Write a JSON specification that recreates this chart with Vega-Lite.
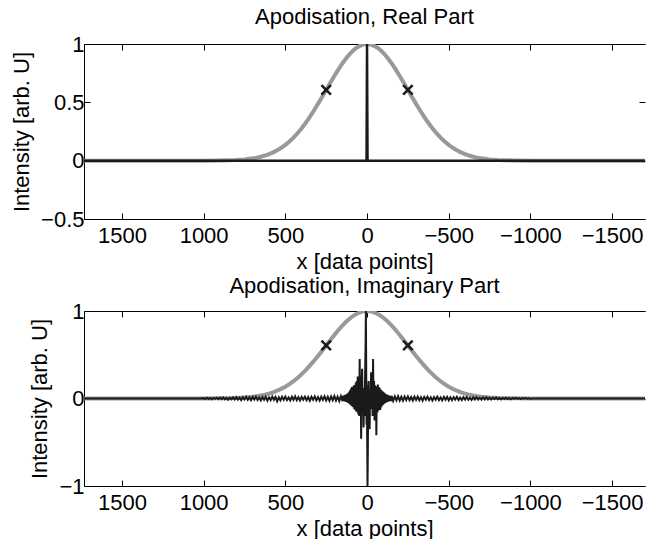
{
  "$schema": "https://vega.github.io/schema/vega-lite/v6.json",
  "padding": {"left": 10, "right": 0, "top": 6, "bottom": 0},
  "config": {
    "font": "Liberation Sans",
    "view": {"stroke": null},
    "axis": {"grid": false, "tickSize": -6, "tickColor": "black", "tickWidth": 1, "domainColor": "black", "domainWidth": 1, "labelColor": "black", "titleColor": "black", "labelFontSize": 22, "titleFontSize": 22, "titleFontWeight": "normal", "labelFont": "Liberation Sans", "titleFont": "Liberation Sans", "labelFlush": false, "labelOverlap": false},
    "title": {"fontSize": 22, "fontWeight": "normal", "font": "Liberation Sans", "color": "black", "offset": 4}
  },
  "spacing": 3,
  "datasets": {
    "gauss": [
      {"x": 1732, "g": 0}, {"x": 1000, "g": 0.0003}, {"x": 900, "g": 0.0015}, {"x": 850, "g": 0.0031}, {"x": 800, "g": 0.006}, {"x": 750, "g": 0.0111}, {"x": 700, "g": 0.0198}, {"x": 675, "g": 0.0261}, {"x": 650, "g": 0.034}, {"x": 625, "g": 0.0439}, {"x": 600, "g": 0.0561}, {"x": 575, "g": 0.071}, {"x": 550, "g": 0.0889}, {"x": 525, "g": 0.1103}, {"x": 500, "g": 0.1353}, {"x": 475, "g": 0.1645}, {"x": 450, "g": 0.1979}, {"x": 425, "g": 0.2357}, {"x": 400, "g": 0.278}, {"x": 375, "g": 0.3247}, {"x": 350, "g": 0.3753}, {"x": 325, "g": 0.4296}, {"x": 300, "g": 0.4868}, {"x": 275, "g": 0.5461}, {"x": 250, "g": 0.6065}, {"x": 225, "g": 0.667}, {"x": 200, "g": 0.7261}, {"x": 175, "g": 0.7827}, {"x": 150, "g": 0.8353}, {"x": 125, "g": 0.8825}, {"x": 100, "g": 0.9231}, {"x": 75, "g": 0.956}, {"x": 50, "g": 0.9802}, {"x": 25, "g": 0.995}, {"x": 0, "g": 1},
      {"x": -25, "g": 0.995}, {"x": -50, "g": 0.9802}, {"x": -75, "g": 0.956}, {"x": -100, "g": 0.9231}, {"x": -125, "g": 0.8825}, {"x": -150, "g": 0.8353}, {"x": -175, "g": 0.7827}, {"x": -200, "g": 0.7261}, {"x": -225, "g": 0.667}, {"x": -250, "g": 0.6065}, {"x": -275, "g": 0.5461}, {"x": -300, "g": 0.4868}, {"x": -325, "g": 0.4296}, {"x": -350, "g": 0.3753}, {"x": -375, "g": 0.3247}, {"x": -400, "g": 0.278}, {"x": -425, "g": 0.2357}, {"x": -450, "g": 0.1979}, {"x": -475, "g": 0.1645}, {"x": -500, "g": 0.1353}, {"x": -525, "g": 0.1103}, {"x": -550, "g": 0.0889}, {"x": -575, "g": 0.071}, {"x": -600, "g": 0.0561}, {"x": -625, "g": 0.0439}, {"x": -650, "g": 0.034}, {"x": -675, "g": 0.0261}, {"x": -700, "g": 0.0198}, {"x": -750, "g": 0.0111}, {"x": -800, "g": 0.006}, {"x": -850, "g": 0.0031}, {"x": -900, "g": 0.0015}, {"x": -1000, "g": 0.0003}, {"x": -1701, "g": 0}
    ],
    "real": [
      {"x": 1732, "r": 0}, {"x": 60, "r": 0}, {"x": 3, "r": 0}, {"x": 0, "r": 1}, {"x": -3, "r": 0}, {"x": -60, "r": 0}, {"x": -1701, "r": 0}
    ],
    "imag": [
      {"x": 1732, "v": 0}, {"x": 1020, "v": 0},
      {"x": 1000, "v": 0.004}, {"x": 990, "v": -0.006}, {"x": 980, "v": 0.008}, {"x": 970, "v": -0.005}, {"x": 960, "v": 0.007}, {"x": 950, "v": -0.009}, {"x": 940, "v": 0.006}, {"x": 930, "v": -0.004}, {"x": 920, "v": 0.009}, {"x": 910, "v": -0.008},
      {"x": 900, "v": 0.011}, {"x": 890, "v": -0.007}, {"x": 880, "v": 0.012}, {"x": 870, "v": -0.01}, {"x": 860, "v": 0.006}, {"x": 850, "v": -0.013}, {"x": 840, "v": 0.01}, {"x": 830, "v": -0.009}, {"x": 820, "v": 0.014}, {"x": 810, "v": -0.011},
      {"x": 800, "v": 0.016}, {"x": 790, "v": -0.012}, {"x": 780, "v": 0.01}, {"x": 770, "v": -0.018}, {"x": 760, "v": 0.015}, {"x": 750, "v": -0.011}, {"x": 740, "v": 0.019}, {"x": 730, "v": -0.016}, {"x": 720, "v": 0.012}, {"x": 710, "v": -0.02},
      {"x": 700, "v": 0.017}, {"x": 690, "v": -0.013}, {"x": 680, "v": 0.021}, {"x": 670, "v": -0.018}, {"x": 660, "v": 0.011}, {"x": 650, "v": -0.022}, {"x": 640, "v": 0.016}, {"x": 630, "v": -0.014}, {"x": 620, "v": 0.02}, {"x": 610, "v": -0.024},
      {"x": 600, "v": 0.013}, {"x": 590, "v": -0.019}, {"x": 580, "v": 0.022}, {"x": 570, "v": -0.015}, {"x": 560, "v": 0.018}, {"x": 550, "v": -0.032}, {"x": 540, "v": 0.014}, {"x": 530, "v": -0.021}, {"x": 520, "v": 0.019}, {"x": 510, "v": -0.016},
      {"x": 500, "v": 0.023}, {"x": 490, "v": -0.018}, {"x": 480, "v": 0.012}, {"x": 470, "v": -0.022}, {"x": 460, "v": 0.02}, {"x": 450, "v": -0.014}, {"x": 440, "v": 0.024}, {"x": 430, "v": -0.019}, {"x": 420, "v": 0.015}, {"x": 410, "v": -0.023},
      {"x": 400, "v": 0.018}, {"x": 390, "v": -0.013}, {"x": 380, "v": 0.021}, {"x": 370, "v": -0.02}, {"x": 360, "v": 0.016}, {"x": 350, "v": -0.025}, {"x": 340, "v": 0.019}, {"x": 330, "v": -0.015}, {"x": 320, "v": 0.024}, {"x": 310, "v": -0.021},
      {"x": 300, "v": 0.017}, {"x": 290, "v": -0.023}, {"x": 280, "v": 0.022}, {"x": 270, "v": -0.016}, {"x": 260, "v": 0.025}, {"x": 250, "v": -0.022}, {"x": 240, "v": 0.019}, {"x": 230, "v": -0.026}, {"x": 220, "v": 0.023}, {"x": 210, "v": -0.02},
      {"x": 200, "v": 0.027}, {"x": 190, "v": -0.024}, {"x": 180, "v": 0.021}, {"x": 170, "v": -0.028}, {"x": 160, "v": 0.026},
      {"x": 150, "v": -0.03}, {"x": 147, "v": 0.03}, {"x": 144, "v": -0.025}, {"x": 141, "v": 0.035}, {"x": 138, "v": -0.03}, {"x": 135, "v": 0.04}, {"x": 132, "v": -0.035}, {"x": 129, "v": 0.045}, {"x": 126, "v": -0.04}, {"x": 123, "v": 0.05}, {"x": 120, "v": -0.045}, {"x": 117, "v": 0.06}, {"x": 114, "v": -0.05}, {"x": 111, "v": 0.07}, {"x": 108, "v": -0.06}, {"x": 105, "v": 0.09}, {"x": 102, "v": -0.07}, {"x": 99, "v": 0.11}, {"x": 96, "v": -0.08}, {"x": 93, "v": 0.13}, {"x": 90, "v": -0.09}, {"x": 87, "v": 0.12}, {"x": 84, "v": -0.1}, {"x": 81, "v": 0.15}, {"x": 78, "v": -0.12}, {"x": 75, "v": 0.14}, {"x": 72, "v": -0.13}, {"x": 69, "v": 0.18}, {"x": 66, "v": -0.15}, {"x": 63, "v": 0.2}, {"x": 60, "v": -0.14}, {"x": 57, "v": 0.25}, {"x": 54, "v": -0.18}, {"x": 51, "v": 0.22}, {"x": 48, "v": -0.2}, {"x": 45, "v": 0.45}, {"x": 42, "v": -0.15}, {"x": 39, "v": 0.2}, {"x": 36, "v": -0.46}, {"x": 33, "v": 0.15}, {"x": 30, "v": 0.34}, {"x": 27, "v": -0.1}, {"x": 24, "v": 0.12}, {"x": 21, "v": -0.33}, {"x": 18, "v": 0.1}, {"x": 15, "v": -0.2}, {"x": 12, "v": 0.25}, {"x": 9, "v": 0.6}, {"x": 7, "v": 1.0}, {"x": 5, "v": 0.3}, {"x": 3, "v": -0.3}, {"x": 1, "v": 0.1}, {"x": -1, "v": -0.5}, {"x": -3, "v": -1.0}, {"x": -5, "v": -0.6}, {"x": -7, "v": 0.1}, {"x": -10, "v": 0.2}, {"x": -13, "v": -0.15}, {"x": -16, "v": -0.35}, {"x": -19, "v": 0.1}, {"x": -22, "v": -0.1}, {"x": -25, "v": 0.3}, {"x": -28, "v": -0.12}, {"x": -31, "v": 0.18}, {"x": -34, "v": -0.2}, {"x": -37, "v": 0.45}, {"x": -40, "v": -0.15}, {"x": -43, "v": 0.2}, {"x": -46, "v": -0.25}, {"x": -49, "v": 0.15}, {"x": -52, "v": -0.18}, {"x": -55, "v": 0.12}, {"x": -57, "v": -0.42}, {"x": -60, "v": 0.14}, {"x": -63, "v": -0.16}, {"x": -66, "v": 0.16}, {"x": -69, "v": -0.14}, {"x": -72, "v": 0.13}, {"x": -75, "v": -0.12}, {"x": -78, "v": 0.12}, {"x": -81, "v": -0.13}, {"x": -84, "v": 0.1}, {"x": -87, "v": -0.1}, {"x": -90, "v": 0.09}, {"x": -93, "v": -0.08}, {"x": -96, "v": 0.08}, {"x": -99, "v": -0.07}, {"x": -102, "v": 0.07}, {"x": -105, "v": -0.06}, {"x": -108, "v": 0.06}, {"x": -111, "v": -0.05}, {"x": -114, "v": 0.05}, {"x": -117, "v": -0.045}, {"x": -120, "v": 0.045}, {"x": -123, "v": -0.04}, {"x": -126, "v": 0.04}, {"x": -129, "v": -0.035}, {"x": -132, "v": 0.035}, {"x": -135, "v": -0.03}, {"x": -138, "v": 0.03}, {"x": -141, "v": -0.03}, {"x": -144, "v": 0.028}, {"x": -147, "v": -0.03}, {"x": -150, "v": 0.03},
      {"x": -160, "v": -0.027}, {"x": -170, "v": 0.024}, {"x": -180, "v": -0.021}, {"x": -190, "v": 0.026}, {"x": -200, "v": -0.023}, {"x": -210, "v": 0.019}, {"x": -220, "v": -0.025}, {"x": -230, "v": 0.022}, {"x": -240, "v": -0.018}, {"x": -250, "v": 0.024},
      {"x": -260, "v": -0.02}, {"x": -270, "v": 0.016}, {"x": -280, "v": -0.023}, {"x": -290, "v": 0.021}, {"x": -300, "v": -0.017}, {"x": -310, "v": 0.022}, {"x": -320, "v": -0.019}, {"x": -330, "v": 0.015}, {"x": -340, "v": -0.024}, {"x": -350, "v": 0.018},
      {"x": -360, "v": -0.014}, {"x": -370, "v": 0.021}, {"x": -380, "v": -0.019}, {"x": -390, "v": 0.013}, {"x": -400, "v": -0.022}, {"x": -410, "v": 0.017}, {"x": -420, "v": -0.015}, {"x": -430, "v": 0.02}, {"x": -440, "v": -0.018}, {"x": -450, "v": 0.012},
      {"x": -460, "v": -0.021}, {"x": -470, "v": 0.019}, {"x": -480, "v": -0.014}, {"x": -490, "v": 0.018}, {"x": -500, "v": -0.02}, {"x": -510, "v": 0.013}, {"x": -520, "v": -0.019}, {"x": -530, "v": 0.016}, {"x": -540, "v": -0.012}, {"x": -550, "v": 0.019},
      {"x": -560, "v": -0.017}, {"x": -570, "v": 0.011}, {"x": -580, "v": -0.018}, {"x": -590, "v": 0.015}, {"x": -600, "v": -0.013}, {"x": -610, "v": 0.017}, {"x": -620, "v": -0.015}, {"x": -630, "v": 0.01}, {"x": -640, "v": -0.016}, {"x": -650, "v": 0.014},
      {"x": -660, "v": -0.011}, {"x": -670, "v": 0.015}, {"x": -680, "v": -0.013}, {"x": -690, "v": 0.009}, {"x": -700, "v": -0.014}, {"x": -710, "v": 0.012}, {"x": -720, "v": -0.01}, {"x": -730, "v": 0.013}, {"x": -740, "v": -0.011}, {"x": -750, "v": 0.008},
      {"x": -760, "v": -0.012}, {"x": -770, "v": 0.01}, {"x": -780, "v": -0.008}, {"x": -790, "v": 0.011}, {"x": -800, "v": -0.009}, {"x": -810, "v": 0.007}, {"x": -820, "v": -0.01}, {"x": -830, "v": 0.008}, {"x": -840, "v": -0.006}, {"x": -850, "v": 0.009},
      {"x": -860, "v": -0.007}, {"x": -870, "v": 0.005}, {"x": -880, "v": -0.008}, {"x": -890, "v": 0.006}, {"x": -900, "v": -0.005}, {"x": -910, "v": 0.007}, {"x": -920, "v": -0.005}, {"x": -930, "v": 0.004}, {"x": -940, "v": -0.006}, {"x": -950, "v": 0.004},
      {"x": -960, "v": -0.003}, {"x": -970, "v": 0.005}, {"x": -980, "v": -0.003}, {"x": -990, "v": 0.003}, {"x": -1000, "v": -0.002},
      {"x": -1020, "v": 0}, {"x": -1701, "v": 0}
    ],
    "marks": [{"x": 250, "m": 0.6065}, {"x": -250, "m": 0.6065}]
  },
  "vconcat": [
    {
      "title": {"text": "Apodisation, Real Part", "offset": 4},
      "width": 561,
      "height": 175,
      "layer": [
        {
          "data": {"name": "gauss"},
          "mark": {"type": "line", "color": "#999999", "strokeWidth": 4, "clip": true},
          "encoding": {
            "x": {"field": "x", "type": "quantitative", "scale": {"domain": [1732, -1701], "nice": false, "zero": false}, "axis": {"orient": "bottom", "values": [1500, 1000, 500, 0, -500, -1000, -1500], "format": "d", "title": "x [data points]", "labelPadding": 12, "titlePadding": 5}},
            "y": {"field": "g", "type": "quantitative", "scale": {"domain": [-0.5, 1], "nice": false}, "axis": {"orient": "left", "values": [-0.5, 0, 0.5, 1], "format": "~g", "title": "Intensity [arb. U]", "labelPadding": 6, "titlePadding": 7}}
          }
        },
        {
          "data": {"name": "real"},
          "mark": {"type": "line", "color": "#1a1a1a", "strokeWidth": 2.5, "clip": true},
          "encoding": {
            "x": {"field": "x", "type": "quantitative", "scale": {"domain": [1732, -1701], "nice": false, "zero": false}, "axis": {"orient": "top", "values": [1500, 1000, 500, 0, -500, -1000, -1500], "labels": false, "title": null}},
            "y": {"field": "r", "type": "quantitative", "scale": {"domain": [-0.5, 1], "nice": false}, "axis": {"orient": "right", "values": [-0.5, 0, 0.5, 1], "labels": false, "title": null, "domain": false}}
          }
        },
        {
          "data": {"name": "marks"},
          "mark": {"type": "point", "shape": "M-1,-1L1,1M-1,1L1,-1", "size": 90, "filled": false, "stroke": "#1a1a1a", "strokeWidth": 2.5, "opacity": 1},
          "encoding": {
            "x": {"field": "x", "type": "quantitative", "axis": null},
            "y": {"field": "m", "type": "quantitative", "axis": null}
          }
        }
      ],
      "resolve": {"axis": {"x": "independent", "y": "independent"}}
    },
    {
      "title": {"text": "Apodisation, Imaginary Part", "offset": 2},
      "width": 561,
      "height": 175,
      "layer": [
        {
          "data": {"name": "gauss"},
          "mark": {"type": "line", "color": "#999999", "strokeWidth": 4, "clip": true},
          "encoding": {
            "x": {"field": "x", "type": "quantitative", "scale": {"domain": [1732, -1701], "nice": false, "zero": false}, "axis": {"orient": "bottom", "values": [1500, 1000, 500, 0, -500, -1000, -1500], "format": "d", "title": "x [data points]", "labelPadding": 12, "titlePadding": 5}},
            "y": {"field": "g", "type": "quantitative", "scale": {"domain": [-1, 1], "nice": false}, "axis": {"orient": "left", "values": [-1, 0, 1], "format": "~g", "title": "Intensity [arb. U]", "labelPadding": 6, "titlePadding": 7}}
          }
        },
        {
          "data": {"name": "imag"},
          "mark": {"type": "line", "color": "#1a1a1a", "strokeWidth": 2, "clip": true},
          "encoding": {
            "x": {"field": "x", "type": "quantitative", "scale": {"domain": [1732, -1701], "nice": false, "zero": false}, "axis": {"orient": "top", "values": [1500, 1000, 500, 0, -500, -1000, -1500], "labels": false, "title": null}},
            "y": {"field": "v", "type": "quantitative", "scale": {"domain": [-1, 1], "nice": false}, "axis": {"orient": "right", "values": [-1, 0, 1], "labels": false, "title": null, "domain": false}}
          }
        },
        {
          "data": {"name": "marks"},
          "mark": {"type": "point", "shape": "M-1,-1L1,1M-1,1L1,-1", "size": 90, "filled": false, "stroke": "#1a1a1a", "strokeWidth": 2.5, "opacity": 1},
          "encoding": {
            "x": {"field": "x", "type": "quantitative", "axis": null},
            "y": {"field": "m", "type": "quantitative", "axis": null}
          }
        }
      ],
      "resolve": {"axis": {"x": "independent", "y": "independent"}}
    }
  ]
}
